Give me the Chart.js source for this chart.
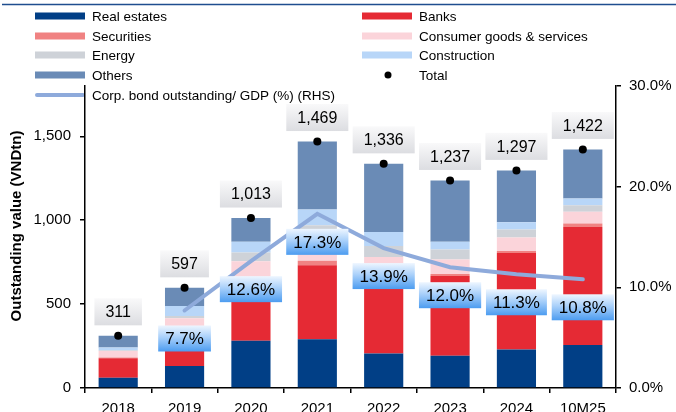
<!DOCTYPE html>
<html>
<head>
<meta charset="utf-8">
<script src="https://cdn.jsdelivr.net/npm/chart.js@4"></script>
<style>
  html, body { margin: 0; padding: 0; background: #fff; overflow: hidden; }
  #wrap { width: 676px; height: 420px; }
</style>
</head>
<body>
<div id="wrap"><canvas id="bondChart" width="676" height="420"></canvas></div>
<script>
const categories = ['2018', '2019', '2020', '2021', '2022', '2023', '2024', '10M25'];

// VND trillion by issuer sector
const realEstate   = [61, 131, 282, 290, 206, 192, 230, 256];
const banks        = [116, 210, 301, 442, 387, 475, 575, 704];
const securities   = [5, 15, 40, 26, 20, 12, 12, 20];
const consumer     = [38, 60, 133, 100, 168, 87, 80, 70];
const energy       = [5, 13, 51, 112, 66, 60, 47, 39];
const construction = [17, 59, 64, 94, 83, 45, 44, 40];
const others       = [69, 109, 142, 405, 406, 366, 309, 293];
const totals       = [311, 597, 1013, 1469, 1336, 1237, 1297, 1422];

// corporate bond outstanding / GDP, %
const bondToGdp = [null, 7.7, 12.6, 17.3, 13.9, 12.0, 11.3, 10.8];

const leftTicks = [0, 500, 1000, 1500];
const rightTicks = [0, 10, 20, 30];

const FONT = '"Liberation Sans", Arial, sans-serif';

function fmtNum(v) {
  return v.toLocaleString('en-US');
}

function barSet(label, data, color) {
  return {
    type: 'bar', label, data,
    backgroundColor: color, borderWidth: 0,
    stack: 'sector', yAxisID: 'y', order: 3,
    barPercentage: 0.59, categoryPercentage: 1
  };
}

// legend drawn in two columns above the plot
const legendItems = [
  { text: 'Real estates', color: '#013f86', kind: 'box', x: 35, y: 16 },
  { text: 'Banks', color: '#e52a34', kind: 'box', x: 362, y: 16 },
  { text: 'Securities', color: '#f08282', kind: 'box', x: 35, y: 36 },
  { text: 'Consumer goods & services', color: '#fbd4da', kind: 'box', x: 362, y: 36 },
  { text: 'Energy', color: '#ced2d8', kind: 'box', x: 35, y: 55 },
  { text: 'Construction', color: '#b8d6f8', kind: 'box', x: 362, y: 55 },
  { text: 'Others', color: '#6a8bb6', kind: 'box', x: 35, y: 75 },
  { text: 'Total', color: '#000', kind: 'dot', x: 362, y: 75 },
  { text: 'Corp. bond outstanding/ GDP (%) (RHS)', color: '#8eaadb', kind: 'line', x: 35, y: 95 }
];

const decorPlugin = {
  id: 'decor',
  beforeDraw(chart) {
    const ctx = chart.ctx;
    ctx.save();
    ctx.fillStyle = '#fff';
    ctx.fillRect(0, 0, chart.width, chart.height);
    // header rule
    ctx.strokeStyle = '#1f4e8f';
    ctx.lineWidth = 1.5;
    ctx.beginPath();
    ctx.moveTo(2, 4.5);
    ctx.lineTo(chart.width, 4.5);
    ctx.stroke();

    ctx.font = '13.5px ' + FONT;
    ctx.textBaseline = 'middle';
    ctx.textAlign = 'left';
    legendItems.forEach(it => {
      if (it.kind === 'box') {
        ctx.fillStyle = it.color;
        ctx.fillRect(it.x, it.y - 3.5, 50, 7);
      } else if (it.kind === 'dot') {
        ctx.fillStyle = it.color;
        ctx.beginPath();
        ctx.arc(it.x + 26, it.y, 3.5, 0, Math.PI * 2);
        ctx.fill();
      } else {
        ctx.strokeStyle = it.color;
        ctx.lineWidth = 4;
        ctx.lineCap = 'round';
        ctx.beginPath();
        ctx.moveTo(it.x + 2, it.y);
        ctx.lineTo(it.x + 48, it.y);
        ctx.stroke();
      }
      ctx.fillStyle = '#000';
      ctx.fillText(it.text, it.x + 57, it.y + 1);
    });

    // left axis title
    ctx.save();
    ctx.translate(17, 226);
    ctx.rotate(-Math.PI / 2);
    ctx.textAlign = 'center';
    ctx.font = 'bold 15px ' + FONT;
    ctx.fillText('Outstanding value (VNDtn)', 0, 0);
    ctx.restore();
    ctx.restore();
  },
  afterDatasetsDraw(chart) {
    const ctx = chart.ctx;
    const xs = chart.scales.x;
    const y = chart.scales.y;
    const y1 = chart.scales.y1;
    ctx.save();
    ctx.textAlign = 'center';
    ctx.textBaseline = 'middle';

    // ratio labels under the line points
    ctx.font = '17px ' + FONT;
    bondToGdp.forEach((v, i) => {
      if (v == null) return;
      const cx = xs.getPixelForValue(i);
      const cy = y1.getPixelForValue(v) + 28;
      const txt = v.toFixed(1) + '%';
      const w = ctx.measureText(txt).width + 14;
      const h = 26;
      const g = ctx.createLinearGradient(0, cy - h / 2, 0, cy + h / 2);
      g.addColorStop(0, '#eef6ff');
      g.addColorStop(0.45, '#a9d0fa');
      g.addColorStop(1, '#4c9cf0');
      ctx.fillStyle = g;
      ctx.fillRect(cx - w / 2, cy - h / 2, w, h);
      ctx.fillStyle = '#000';
      ctx.fillText(txt, cx, cy + 1);
    });

    // total labels above the dots
    ctx.font = '16px ' + FONT;
    totals.forEach((v, i) => {
      const cx = xs.getPixelForValue(i);
      const cy = y.getPixelForValue(v) - 24;
      const txt = fmtNum(v);
      const w = ctx.measureText(txt).width + 22;
      const h = 27;
      const g = ctx.createLinearGradient(0, cy - h / 2, 0, cy + h / 2);
      g.addColorStop(0, '#f9f9fa');
      g.addColorStop(1, '#dcdde1');
      ctx.fillStyle = g;
      ctx.fillRect(cx - w / 2, cy - h / 2, w, h);
      ctx.fillStyle = '#000';
      ctx.fillText(txt, cx, cy + 1);
    });
    ctx.restore();
  }
};

const ctx = document.getElementById('bondChart').getContext('2d');
new Chart(ctx, {
  data: {
    labels: categories,
    datasets: [
      barSet('Real estates', realEstate, '#013f86'),
      barSet('Banks', banks, '#e52a34'),
      barSet('Securities', securities, '#f08282'),
      barSet('Consumer goods & services', consumer, '#fbd4da'),
      barSet('Energy', energy, '#ced2d8'),
      barSet('Construction', construction, '#b8d6f8'),
      barSet('Others', others, '#6a8bb6'),
      {
        type: 'line', label: 'Corp. bond outstanding/ GDP (%) (RHS)',
        data: bondToGdp, yAxisID: 'y1', order: 2,
        borderColor: '#8eaadb', borderWidth: 4, borderCapStyle: 'round',
        pointRadius: 0, tension: 0, spanGaps: false
      },
      {
        type: 'line', label: 'Total', data: totals, yAxisID: 'y', stack: 'total', order: 1,
        showLine: false, pointRadius: 4, pointBackgroundColor: '#000',
        pointBorderWidth: 0, borderColor: '#000'
      }
    ]
  },
  options: {
    responsive: false,
    animation: false,
    devicePixelRatio: 1,
    layout: { padding: { top: 86, left: 0, right: 0, bottom: 0 } },
    plugins: {
      legend: { display: false },
      tooltip: { enabled: false }
    },
    scales: {
      x: {
        stacked: true,
        offset: true,
        border: { color: '#000', width: 1.5 },
        grid: { offset: true, drawOnChartArea: false, drawTicks: true, tickLength: 5, color: '#000', lineWidth: 1.5 },
        ticks: { color: '#000', font: { family: FONT, size: 15 }, padding: 7, maxRotation: 0 },
        afterFit: s => { s.height = 32; }
      },
      y: {
        stacked: true,
        min: 0, max: 1800,
        position: 'left',
        border: { color: '#000', width: 1.5 },
        grid: { drawOnChartArea: false, drawTicks: true, tickLength: 5, color: '#000', lineWidth: 1.5 },
        ticks: { color: '#000', font: { family: FONT, size: 15 }, padding: 9, callback: v => fmtNum(v) },
        afterBuildTicks: s => { s.ticks = leftTicks.map(v => ({ value: v })); },
        afterFit: s => { s.width = 85; }
      },
      y1: {
        stacked: false,
        min: 0, max: 30,
        position: 'right',
        border: { color: '#000', width: 1.5 },
        grid: { drawOnChartArea: false, drawTicks: true, tickLength: 5, color: '#000', lineWidth: 1.5 },
        ticks: { color: '#000', font: { family: FONT, size: 15 }, padding: 8, callback: v => v.toFixed(1) + '%' },
        afterBuildTicks: s => { s.ticks = rightTicks.map(v => ({ value: v })); },
        afterFit: s => { s.width = 60; }
      }
    }
  },
  plugins: [decorPlugin]
});
</script>
</body>
</html>
